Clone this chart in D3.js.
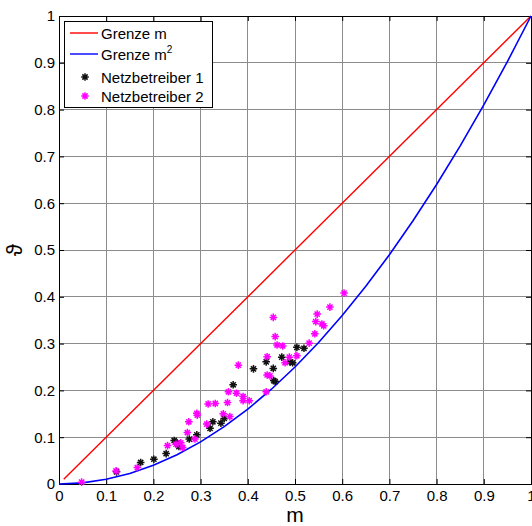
<!DOCTYPE html>
<html><head><meta charset="utf-8">
<script src="https://cdn.jsdelivr.net/npm/d3@7"></script>
<style>body{margin:0;background:#fff}svg{display:block}</style></head>
<body>
<svg id="c" width="532" height="526"></svg>
<script>
// ---- data ----
const tickValues = [0,0.1,0.2,0.3,0.4,0.5,0.6,0.7,0.8,0.9,1];
const tickLabels = ["0","0.1","0.2","0.3","0.4","0.5","0.6","0.7","0.8","0.9","1"];

const grenzeM_x = [0.01, 1];
const grenzeM_y = [0.01, 1];

const grenzeM2_x = [0,0.05,0.1,0.15,0.2,0.25,0.3,0.35,0.4,0.45,0.5,0.55,0.6,0.65,0.7,0.75,0.8,0.85,0.9,0.95,1];
const grenzeM2_y = [0,0.0025,0.01,0.0225,0.04,0.0625,0.09,0.1225,0.16,0.2025,0.25,0.3025,0.36,0.4225,0.49,0.5625,0.64,0.7225,0.81,0.9025,1];

const nb1_m = [0.122,0.173,0.201,0.227,0.244,0.254,0.250,0.276,0.292,0.320,0.326,0.343,0.350,0.369,0.412,0.439,0.454,0.455,0.458,0.472,0.489,0.495,0.504,0.519];
const nb1_v = [0.026,0.046,0.053,0.065,0.093,0.080,0.088,0.096,0.105,0.119,0.133,0.130,0.140,0.212,0.246,0.261,0.247,0.221,0.219,0.271,0.261,0.259,0.292,0.290];

const nb2_m = [0.048,0.121,0.166,0.230,0.248,0.258,0.262,0.272,0.275,0.293,0.288,0.292,0.313,0.316,0.331,0.348,0.357,0.359,0.362,0.376,0.380,0.390,0.390,0.403,0.439,0.441,0.441,0.447,0.454,0.458,0.462,0.474,0.479,0.488,0.504,0.530,0.542,0.544,0.547,0.557,0.561,0.574,0.604];
const nb2_v = [0.004,0.028,0.035,0.082,0.085,0.088,0.078,0.110,0.133,0.147,0.096,0.151,0.128,0.171,0.172,0.150,0.174,0.197,0.144,0.194,0.254,0.187,0.178,0.178,0.197,0.272,0.233,0.231,0.356,0.315,0.297,0.295,0.259,0.271,0.274,0.301,0.321,0.347,0.363,0.342,0.338,0.378,0.408];

const legendLabels = ["Grenze m", "Grenze m", "Netzbetreiber 1", "Netzbetreiber 2"];

// ---- layout ----
const L = 59, R = 531, T = 16, B = 484;
const svg = d3.select("#c");
const x = d3.scaleLinear().domain([0,1]).range([L,R]);
const y = d3.scaleLinear().domain([0,1]).range([B,T]);
const font = "Liberation Sans, Arial, sans-serif";

// grid
const g = svg.append("g");
g.selectAll("line.gx").data(tickValues.slice(1,-1)).join("line")
  .attr("x1",d=>x(d)).attr("x2",d=>x(d)).attr("y1",T).attr("y2",B)
  .attr("stroke","#8c8c8c").attr("stroke-width",1).attr("shape-rendering","crispEdges");
g.selectAll("line.gy").data(tickValues.slice(1,-1)).join("line")
  .attr("y1",d=>y(d)).attr("y2",d=>y(d)).attr("x1",L).attr("x2",R)
  .attr("stroke","#8c8c8c").attr("stroke-width",1).attr("shape-rendering","crispEdges");

// axes (ticks inside)
const fmt = (d,i)=>tickLabels[i];
const xAxis = d3.axisBottom(x).tickValues(tickValues).tickFormat(fmt).tickSizeInner(-5).tickSizeOuter(0).tickPadding(6);
const yAxis = d3.axisLeft(y).tickValues(tickValues).tickFormat(fmt).tickSizeInner(-5).tickSizeOuter(0).tickPadding(4);
const xTop = d3.axisTop(x).tickValues(tickValues).tickFormat("").tickSizeInner(-5).tickSizeOuter(0);
const yRight = d3.axisRight(y).tickValues(tickValues).tickFormat("").tickSizeInner(-5).tickSizeOuter(0);

function style(sel){
  sel.select(".domain").remove();
  sel.selectAll("line").attr("stroke","#000");
  sel.selectAll("text").attr("font-family",font).attr("font-size",15).attr("fill","#000");
}
svg.append("g").attr("transform",`translate(0,${B})`).call(xAxis).call(style);
svg.append("g").attr("transform",`translate(${L},0)`).call(yAxis).call(style);
svg.append("g").attr("transform",`translate(0,${T})`).call(xTop).call(style);
svg.append("g").attr("transform",`translate(${R},0)`).call(yRight).call(style);

// box
svg.append("rect").attr("x",L).attr("y",T).attr("width",R-L).attr("height",B-T)
  .attr("fill","none").attr("stroke","#000").attr("stroke-width",1).attr("shape-rendering","crispEdges");

// lines
const line = d3.line().x(d=>x(d[0])).y(d=>y(d[1]));
svg.append("path").datum(grenzeM_x.map((d,i)=>[d,grenzeM_y[i]])).attr("d",line)
  .attr("fill","none").attr("stroke","#ff0000").attr("stroke-width",1.4);
svg.append("path").datum(grenzeM2_x.map((d,i)=>[d,grenzeM2_y[i]])).attr("d",line)
  .attr("fill","none").attr("stroke","#0000ff").attr("stroke-width",1.6);

// markers
const star = "M-3.8,0H3.8M0,-3.8V3.8M-2.6,-2.6L2.6,2.6M-2.6,2.6L2.6,-2.6";
function drawStars(ms, vs, color){
  svg.append("g").selectAll("path").data(ms.map((d,i)=>[d,vs[i]])).join("path")
    .attr("transform",d=>`translate(${x(d[0])},${y(d[1])})`)
    .attr("d",star).attr("fill","none").attr("stroke",color).attr("stroke-width",1.5);
}
drawStars(nb1_m, nb1_v, "#111");
drawStars(nb2_m, nb2_v, "#ff00ff");

// axis labels
svg.append("text").attr("x",x(0.5)).attr("y",522).attr("text-anchor","middle")
  .attr("font-family",font).attr("font-size",21).text("m");
svg.append("text").attr("transform",`translate(22,${y(0.5)}) rotate(-90)`).attr("text-anchor","middle")
  .attr("font-family",font).attr("font-size",22).text("ϑ");

// legend
const lg = svg.append("g");
lg.append("rect").attr("x",64.5).attr("y",21.5).attr("width",148).attr("height",86)
  .attr("fill","#fff").attr("stroke","#000").attr("stroke-width",1);
const rows = [33, 54, 77, 96];
lg.append("line").attr("x1",70).attr("x2",98).attr("y1",rows[0]).attr("y2",rows[0]).attr("stroke","#ff0000").attr("stroke-width",1.4);
lg.append("line").attr("x1",70).attr("x2",98).attr("y1",rows[1]).attr("y2",rows[1]).attr("stroke","#0000ff").attr("stroke-width",1.4);
lg.append("path").attr("transform",`translate(85,${rows[2]})`).attr("d",star).attr("fill","none").attr("stroke","#111").attr("stroke-width",1.5);
lg.append("path").attr("transform",`translate(85,${rows[3]})`).attr("d",star).attr("fill","none").attr("stroke","#ff00ff").attr("stroke-width",1.5);
legendLabels.forEach((t,i)=>{
  const tx = lg.append("text").attr("x",101).attr("y",rows[i]+5.5)
    .attr("font-family",font).attr("font-size",15).text(t);
  if(i===1){ tx.append("tspan").attr("dy",-7).attr("font-size",10).text("2"); }
});
</script>
</body></html>
